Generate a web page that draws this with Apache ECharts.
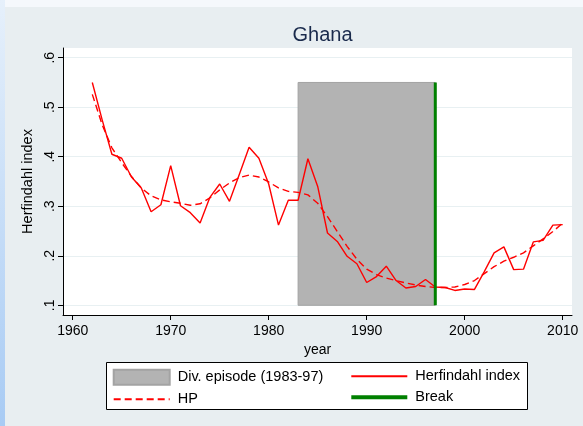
<!DOCTYPE html>
<html><head><meta charset="utf-8">
<script src="https://cdn.jsdelivr.net/npm/echarts@6/dist/echarts.min.js"></script>
<style>
html,body{margin:0;padding:0;width:583px;height:426px;overflow:hidden;background:#f5f8fc;}
#strip{position:absolute;left:0;top:0;width:5px;height:426px;background:linear-gradient(#e6f0fb,#a8cbf4);}
#panel{position:absolute;left:5px;top:7px;width:578px;height:419px;background:#e8eef1;}
#chart{position:absolute;left:0;top:0;width:583px;height:426px;}
</style></head><body>
<div id="strip"></div><div id="panel"></div><div id="chart"></div>
<script>
const years = [1962,1963,1964,1965,1966,1967,1968,1969,1970,1971,1972,1973,1974,1975,1976,1977,1978,1979,1980,1981,1982,1983,
  1984,1985,1986,1987,1988,1989,1990,1991,1992,1993,1994,1995,1996,1997,1998,1999,2000,2001,2002,2003,2004,2005,2006,2007,2008,2009,2010];
const herfindahl = [0.550,0.475,0.405,0.397,0.359,0.337,0.289,0.303,0.382,0.301,0.287,0.266,0.318,0.345,0.310,0.364,0.419,0.397,0.345,0.262,0.312,0.312,
  0.396,0.340,0.246,0.229,0.199,0.184,0.146,0.158,0.179,0.150,0.135,0.138,0.152,0.137,0.136,0.130,0.133,0.132,0.168,0.206,0.218,0.172,0.173,0.228,0.231,0.262,0.263];
const hp = [0.526,0.465,0.418,0.388,0.360,0.337,0.321,0.313,0.309,0.306,0.302,0.305,0.317,0.333,0.347,0.358,0.363,0.359,0.349,0.337,0.330,0.328,
  0.323,0.306,0.279,0.249,0.219,0.193,0.173,0.162,0.155,0.150,0.145,0.141,0.138,0.136,0.136,0.137,0.142,0.150,0.164,0.178,0.189,0.197,0.206,0.220,0.234,0.249,0.266];
const episode = [1983, 1997, 0.1, 0.55];   // start year, end year, low, high
const breakLine = [[1997, 0.1], [1997, 0.55]];
const xTicks = [1960,1970,1980,1990,2000,2010];
const yTicks = [0.1,0.2,0.3,0.4,0.5,0.6];

const chart = echarts.init(document.getElementById('chart'), null, {renderer:'canvas'});
const font = 'Liberation Sans, Arial, sans-serif';
const hideSymbol = {opacity: 0};
chart.setOption({
  animation: false,
  backgroundColor: 'transparent',
  textStyle: {fontFamily: font},
  title: {text: 'Ghana', left: 317.5, top: 20, textAlign: 'center',
    textStyle: {fontFamily: font, fontSize: 20, fontWeight: 'normal', color: '#1a2a4c'}},
  grid: {left: 63, right: 11, top: 48, bottom: 111, show: true, backgroundColor: '#ffffff', borderWidth: 0},
  xAxis: {
    type: 'value', min: 1959.01, max: 2010.95,
    name: 'year', nameLocation: 'middle', nameGap: 23,
    nameTextStyle: {fontFamily: font, fontSize: 14, color: '#000'},
    axisLine: {show: true, onZero: false, lineStyle: {color: '#000', width: 1}},
    axisTick: {show: true, length: 5, customValues: xTicks, lineStyle: {color: '#000'}},
    axisLabel: {customValues: xTicks, fontFamily: font, fontSize: 14, color: '#000', margin: 9,
      formatter: v => String(Math.round(v))},
    splitLine: {show: false}
  },
  yAxis: {
    type: 'value', min: 0.0804, max: 0.6196,
    name: 'Herfindahl index', nameLocation: 'middle', nameGap: 22, nameRotate: 90,
    nameTextStyle: {fontFamily: font, fontSize: 14.5, color: '#000'},
    axisLine: {show: true, onZero: false, lineStyle: {color: '#000', width: 1}},
    axisTick: {show: true, length: 5, customValues: yTicks, lineStyle: {color: '#000'}},
    axisLabel: {customValues: yTicks, rotate: 90, fontFamily: font, fontSize: 14, color: '#000', margin: 6,
      formatter: v => (Math.round(v * 10) / 10).toString().replace(/^0/, '')},
    splitLine: {show: true, lineStyle: {color: '#e8f0f2', width: 1}}
  },
  graphic: [{type: 'rect', z: 0, shape: {x: 106.5, y: 362.5, width: 421, height: 47},
    style: {fill: '#ffffff', stroke: '#000000', lineWidth: 1}}],
  legend: [
    {left: 112.7, top: 368.7, padding: 0, orient: 'vertical', itemWidth: 56, itemHeight: 15, itemGap: 6, z: 10,
      textStyle: {fontFamily: font, fontSize: 14.5, color: '#000', lineHeight: 15, padding: [0,0,0,3]},
      data: [{name: 'Div. episode (1983-97)', icon: 'rect'}, {name: 'HP', itemStyle: hideSymbol}]},
    {left: 349.3, top: 368.7, padding: 0, orient: 'vertical', itemWidth: 56, itemHeight: 15, itemGap: 6, z: 10,
      textStyle: {fontFamily: font, fontSize: 14.5, color: '#000', lineHeight: 15, padding: [0,0,0,3]},
      data: [{name: 'Herfindahl index', itemStyle: hideSymbol},
             {name: 'Break', itemStyle: hideSymbol, lineStyle: {width: 4}}]}
  ],
  series: [
    {
      name: 'Div. episode (1983-97)', type: 'custom', z: 1,
      data: [episode], encode: {x: [0, 1], y: [2, 3]},
      itemStyle: {color: '#b3b3b3', borderColor: '#a3a3a3', borderWidth: 1},
      renderItem: (params, api) => {
        const p1 = api.coord([api.value(0), api.value(3)]);
        const p2 = api.coord([api.value(1), api.value(2)]);
        return {type: 'rect', shape: {x: p1[0], y: p1[1], width: p2[0] - p1[0], height: p2[1] - p1[1]},
          style: {fill: '#b3b3b3', stroke: '#a3a3a3', lineWidth: 1}};
      }
    },
    {
      name: 'HP', type: 'line', z: 3, symbol: 'none',
      data: years.map((y, i) => [y, hp[i]]),
      itemStyle: {color: '#ff0000'},
      lineStyle: {color: '#ff0000', width: 1.4, type: [7, 4]}
    },
    {
      name: 'Herfindahl index', type: 'line', z: 4, symbol: 'none',
      data: years.map((y, i) => [y, herfindahl[i]]),
      itemStyle: {color: '#ff0000'},
      lineStyle: {color: '#ff0000', width: 1.4}
    },
    {
      name: 'Break', type: 'line', z: 5, symbol: 'none',
      data: breakLine,
      itemStyle: {color: '#008000'},
      lineStyle: {color: '#008000', width: 3}
    }
  ]
});
</script>
</body></html>
